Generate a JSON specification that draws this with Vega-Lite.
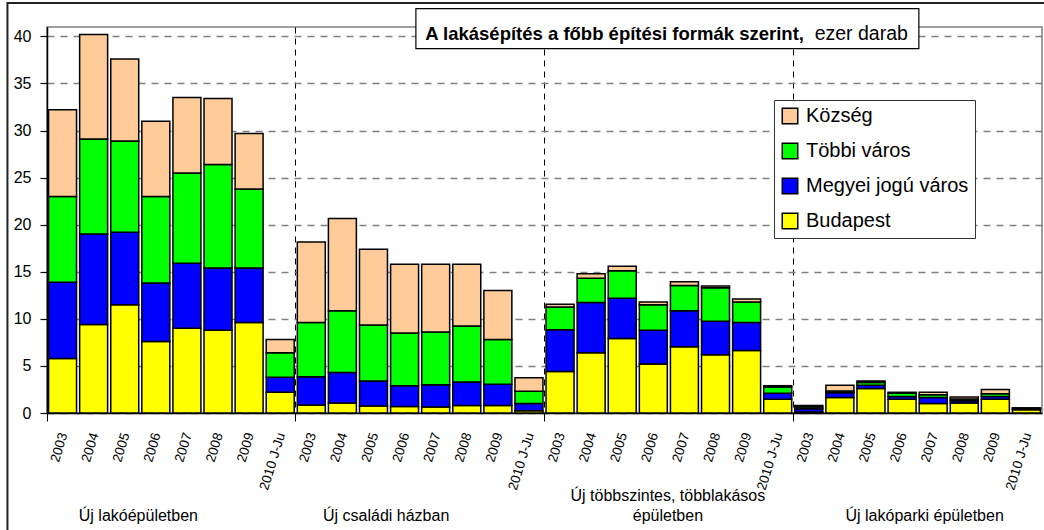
{
  "$schema": "https://vega.github.io/schema/vega-lite/v6.json",
  "width": 995,
  "height": 386,
  "autosize": "none",
  "padding": {"left": 47, "top": 27, "right": 2, "bottom": 117},
  "background": "white",
  "config": {
    "font": "Liberation Sans",
    "view": {"stroke": "#808080", "strokeWidth": 1.5}
  },
  "data": {
    "values": [
      {"csoport": "Új lakóépületben", "ev": "2003", "Budapest": 5.8, "Megyei jogú város": 8.1, "Többi város": 9.1, "Község": 9.2},
      {"csoport": "Új lakóépületben", "ev": "2004", "Budapest": 9.4, "Megyei jogú város": 9.6, "Többi város": 10.1, "Község": 11.1},
      {"csoport": "Új lakóépületben", "ev": "2005", "Budapest": 11.5, "Megyei jogú város": 7.7, "Többi város": 9.7, "Község": 8.7},
      {"csoport": "Új lakóépületben", "ev": "2006", "Budapest": 7.6, "Megyei jogú város": 6.2, "Többi város": 9.2, "Község": 8.0},
      {"csoport": "Új lakóépületben", "ev": "2007", "Budapest": 9.0, "Megyei jogú város": 6.9, "Többi város": 9.6, "Község": 8.0},
      {"csoport": "Új lakóépületben", "ev": "2008", "Budapest": 8.8, "Megyei jogú város": 6.6, "Többi város": 11.0, "Község": 7.0},
      {"csoport": "Új lakóépületben", "ev": "2009", "Budapest": 9.6, "Megyei jogú város": 5.8, "Többi város": 8.4, "Község": 5.9},
      {"csoport": "Új lakóépületben", "ev": "2010 J-Ju", "Budapest": 2.2, "Megyei jogú város": 1.6, "Többi város": 2.6, "Község": 1.4},
      {"csoport": "Új családi házban", "ev": "2003", "Budapest": 0.85, "Megyei jogú város": 3.0, "Többi város": 5.75, "Község": 8.55},
      {"csoport": "Új családi házban", "ev": "2004", "Budapest": 1.05, "Megyei jogú város": 3.25, "Többi város": 6.55, "Község": 9.8},
      {"csoport": "Új családi házban", "ev": "2005", "Budapest": 0.75, "Megyei jogú város": 2.65, "Többi város": 5.95, "Község": 8.05},
      {"csoport": "Új családi házban", "ev": "2006", "Budapest": 0.7, "Megyei jogú város": 2.2, "Többi város": 5.6, "Község": 7.3},
      {"csoport": "Új családi házban", "ev": "2007", "Budapest": 0.65, "Megyei jogú város": 2.35, "Többi város": 5.6, "Község": 7.2},
      {"csoport": "Új családi házban", "ev": "2008", "Budapest": 0.8, "Megyei jogú város": 2.5, "Többi város": 5.95, "Község": 6.55},
      {"csoport": "Új családi házban", "ev": "2009", "Budapest": 0.8, "Megyei jogú város": 2.25, "Többi város": 4.75, "Község": 5.2},
      {"csoport": "Új családi házban", "ev": "2010 J-Ju", "Budapest": 0.25, "Megyei jogú város": 0.75, "Többi város": 1.3, "Község": 1.45},
      {"csoport": "Új többszintes, többlakásos épületben", "ev": "2003", "Budapest": 4.4, "Megyei jogú város": 4.45, "Többi város": 2.4, "Község": 0.3},
      {"csoport": "Új többszintes, többlakásos épületben", "ev": "2004", "Budapest": 6.4, "Megyei jogú város": 5.35, "Többi város": 2.55, "Község": 0.5},
      {"csoport": "Új többszintes, többlakásos épületben", "ev": "2005", "Budapest": 7.9, "Megyei jogú város": 4.3, "Többi város": 2.9, "Község": 0.5},
      {"csoport": "Új többszintes, többlakásos épületben", "ev": "2006", "Budapest": 5.2, "Megyei jogú város": 3.6, "Többi város": 2.7, "Község": 0.3},
      {"csoport": "Új többszintes, többlakásos épületben", "ev": "2007", "Budapest": 7.05, "Megyei jogú város": 3.8, "Többi város": 2.7, "Község": 0.4},
      {"csoport": "Új többszintes, többlakásos épületben", "ev": "2008", "Budapest": 6.2, "Megyei jogú város": 3.55, "Többi város": 3.55, "Község": 0.2},
      {"csoport": "Új többszintes, többlakásos épületben", "ev": "2009", "Budapest": 6.65, "Megyei jogú város": 2.95, "Többi város": 2.2, "Község": 0.3},
      {"csoport": "Új többszintes, többlakásos épületben", "ev": "2010 J-Ju", "Budapest": 1.45, "Megyei jogú város": 0.65, "Többi város": 0.65, "Község": 0.15},
      {"csoport": "Új lakóparki épületben", "ev": "2003", "Budapest": 0.1, "Megyei jogú város": 0.35, "Többi város": 0.2, "Község": 0.15},
      {"csoport": "Új lakóparki épületben", "ev": "2004", "Budapest": 1.65, "Megyei jogú város": 0.5, "Többi város": 0.2, "Község": 0.6},
      {"csoport": "Új lakóparki épületben", "ev": "2005", "Budapest": 2.6, "Megyei jogú város": 0.35, "Többi város": 0.3, "Község": 0.15},
      {"csoport": "Új lakóparki épületben", "ev": "2006", "Budapest": 1.45, "Megyei jogú város": 0.3, "Többi város": 0.35, "Község": 0.1},
      {"csoport": "Új lakóparki épületben", "ev": "2007", "Budapest": 1.0, "Megyei jogú város": 0.65, "Többi város": 0.3, "Község": 0.25},
      {"csoport": "Új lakóparki épületben", "ev": "2008", "Budapest": 1.05, "Megyei jogú város": 0.25, "Többi város": 0.2, "Község": 0.2},
      {"csoport": "Új lakóparki épületben", "ev": "2009", "Budapest": 1.45, "Megyei jogú város": 0.3, "Többi város": 0.3, "Község": 0.45},
      {"csoport": "Új lakóparki épületben", "ev": "2010 J-Ju", "Budapest": 0.35, "Megyei jogú város": 0.05, "Többi város": 0.1, "Község": 0.05}
    ]
  },
  "layer": [
    {
      "transform": [
        {"fold": ["Budapest", "Megyei jogú város", "Többi város", "Község"], "as": ["kat", "ertek"]},
        {"calculate": "indexof(['Budapest', 'Megyei jogú város', 'Többi város', 'Község'], datum.kat)", "as": "sorrend"}
      ],
      "mark": {"type": "bar", "stroke": "black", "strokeWidth": 1.5},
      "encoding": {
        "x": {
          "field": "csoport", "type": "nominal",
          "scale": {"domain": ["Új lakóépületben", "Új családi házban", "Új többszintes, többlakásos épületben", "Új lakóparki épületben"], "paddingInner": 0, "paddingOuter": 0},
          "axis": {"title": null, "labels": false, "ticks": true, "bandPosition": 0, "tickSize": 8, "tickColor": "black", "tickWidth": 1, "domainColor": "black", "domainWidth": 1.5, "grid": true, "gridColor": "black", "gridDash": [6, 5], "gridWidth": 1}
        },
        "xOffset": {
          "field": "ev", "type": "nominal",
          "scale": {"domain": ["2003", "2004", "2005", "2006", "2007", "2008", "2009", "2010 J-Ju"], "paddingInner": 0.1, "paddingOuter": 0.05}
        },
        "y": {
          "field": "ertek", "type": "quantitative", "stack": "zero",
          "scale": {"domain": [0, 41], "nice": false},
          "axis": {"title": null, "values": [0, 5, 10, 15, 20, 25, 30, 35, 40], "grid": true, "gridColor": "#808080", "gridDash": [7, 6], "gridWidth": 1.3, "domainColor": "black", "domainWidth": 1.5, "tickColor": "black", "tickSize": 7, "tickWidth": 1.2, "labelFontSize": 16, "labelColor": "black", "labelPadding": 9}
        },
        "color": {
          "field": "kat", "type": "nominal",
          "scale": {"domain": ["Budapest", "Megyei jogú város", "Többi város", "Község"], "range": ["#FFFF00", "#0000FF", "#00FF00", "#FFCC99"]},
          "legend": {"title": null, "orient": "none", "legendX": 727, "legendY": 73, "values": ["Község", "Többi város", "Megyei jogú város", "Budapest"], "symbolType": "square", "symbolSize": 240, "symbolStrokeColor": "black", "symbolStrokeWidth": 1.5, "symbolOpacity": 1, "labelFontSize": 20, "labelColor": "black", "labelOffset": 6, "labelLimit": 0, "rowPadding": 13, "padding": 6, "fillColor": "white", "strokeColor": "#333333"}
        },
        "order": {"field": "sorrend", "type": "quantitative"}
      }
    },
    {
      "mark": {"type": "text", "angle": 287, "align": "right", "baseline": "middle", "dx": -19, "dy": 7, "fontSize": 13.5, "color": "black"},
      "encoding": {
        "x": {"field": "csoport", "type": "nominal"},
        "xOffset": {"field": "ev", "type": "nominal"},
        "y": {"datum": 0},
        "text": {"field": "ev", "type": "nominal"}
      }
    },
    {
      "data": {"values": [{}]},
      "mark": {"type": "rect", "filled": false, "stroke": "#222222", "strokeWidth": 2},
      "encoding": {
        "x": {"datum": "Új lakóépületben", "type": "nominal", "bandPosition": -0.159},
        "x2": {"datum": "Új lakóparki épületben", "bandPosition": 1.032},
        "y": {"datum": 43.55},
        "y2": {"datum": -13.5}
      }
    },
    {
      "data": {"values": [{}]},
      "mark": {"type": "rect", "fill": "white", "stroke": "black", "strokeWidth": 1.2},
      "encoding": {
        "x": {"datum": "Új családi házban", "type": "nominal", "bandPosition": 0.483},
        "x2": {"datum": "Új lakóparki épületben", "bandPosition": 0.505},
        "y": {"datum": 42.95},
        "y2": {"datum": 38.7}
      }
    },
    {
      "data": {"values": [{}]},
      "mark": {"type": "text", "align": "right", "baseline": "alphabetic", "fontSize": 18.5, "fontWeight": "bold", "color": "black"},
      "encoding": {
        "x": {"datum": "Új lakóparki épületben", "type": "nominal", "bandPosition": 0.043},
        "y": {"datum": 39.65},
        "text": {"value": "A lakásépítés a főbb építési formák szerint,"}
      }
    },
    {
      "data": {"values": [{}]},
      "mark": {"type": "text", "align": "left", "baseline": "alphabetic", "fontSize": 19.5, "color": "black"},
      "encoding": {
        "x": {"datum": "Új lakóparki épületben", "type": "nominal", "bandPosition": 0.086},
        "y": {"datum": 39.65},
        "text": {"value": "ezer darab"}
      }
    },
    {
      "data": {"values": [{}]},
      "mark": {"type": "text", "align": "center", "baseline": "middle", "fontSize": 16, "dx": -33, "dy": 103, "color": "black"},
      "encoding": {
        "x": {"datum": "Új lakóépületben", "type": "nominal"},
        "y": {"datum": 0},
        "text": {"value": "Új lakóépületben"}
      }
    },
    {
      "data": {"values": [{}]},
      "mark": {"type": "text", "align": "center", "baseline": "middle", "fontSize": 16, "dx": -34, "dy": 103, "color": "black"},
      "encoding": {
        "x": {"datum": "Új családi házban", "type": "nominal"},
        "y": {"datum": 0},
        "text": {"value": "Új családi házban"}
      }
    },
    {
      "data": {"values": [{}]},
      "mark": {"type": "text", "align": "center", "baseline": "middle", "fontSize": 16, "dx": -1, "dy": 83, "color": "black"},
      "encoding": {
        "x": {"datum": "Új többszintes, többlakásos épületben", "type": "nominal"},
        "y": {"datum": 0},
        "text": {"value": "Új többszintes, többlakásos"}
      }
    },
    {
      "data": {"values": [{}]},
      "mark": {"type": "text", "align": "center", "baseline": "middle", "fontSize": 16, "dx": -1, "dy": 103, "color": "black"},
      "encoding": {
        "x": {"datum": "Új többszintes, többlakásos épületben", "type": "nominal"},
        "y": {"datum": 0},
        "text": {"value": "épületben"}
      }
    },
    {
      "data": {"values": [{}]},
      "mark": {"type": "text", "align": "center", "baseline": "middle", "fontSize": 16, "dx": 7, "dy": 103, "color": "black"},
      "encoding": {
        "x": {"datum": "Új lakóparki épületben", "type": "nominal"},
        "y": {"datum": 0},
        "text": {"value": "Új lakóparki épületben"}
      }
    }
  ]
}
